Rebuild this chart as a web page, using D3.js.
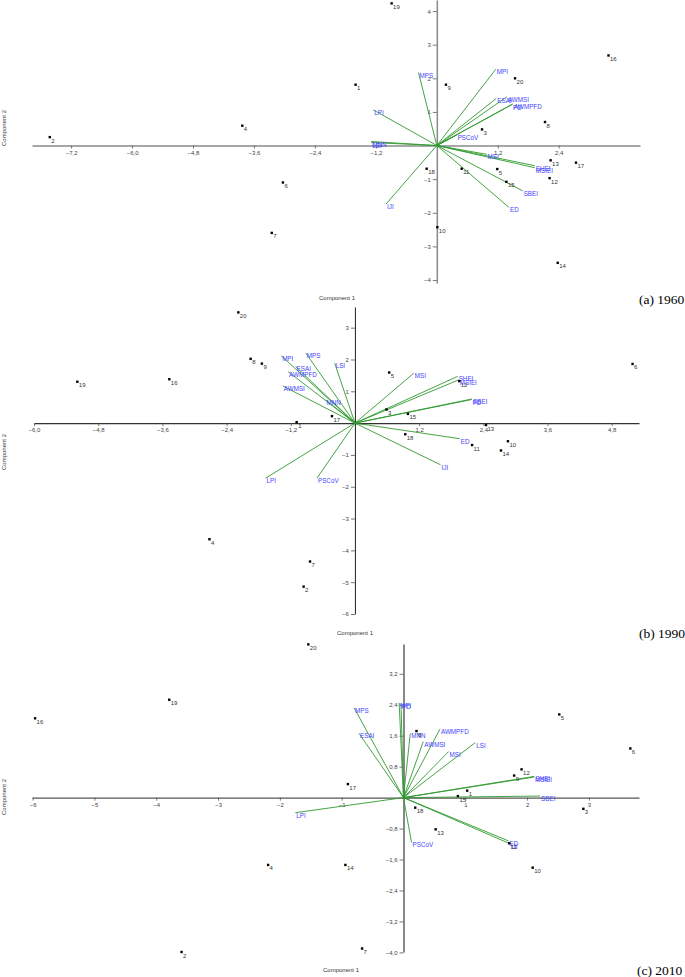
<!DOCTYPE html>
<html>
<head>
<meta charset="utf-8">
<script src="https://cdn.jsdelivr.net/npm/d3@7"></script>
<style>
html,body{margin:0;padding:0;background:#fff;}
svg{display:block;}
</style>
</head>
<body>
<svg id="chart" width="685" height="977"></svg>
<script>
// ---------- DATA ----------
const sampleIds = ["1","2","3","4","5","6","7","8","9","10","11","12","13","14","15","16","17","18","19","20"];

// 1960 scores
const pc1_1960 = [-1.60,-7.62,0.89,-3.83,1.19,-3.03,-3.25,2.13,0.18,0.01,0.49,2.22,2.24,2.38,1.37,3.38,2.74,-0.20,-0.89,1.54];
const pc2_1960 = [1.81,0.25,0.48,0.59,-0.70,-1.10,-2.60,0.70,1.81,-2.43,-0.69,-0.97,-0.44,-3.49,-1.08,2.68,-0.51,-0.69,4.23,2.00];
// 1990 scores
const pc1_1990 = [-1.09,-0.96,0.59,-2.72,0.64,5.19,-0.84,-1.95,-1.74,2.86,2.19,1.95,2.45,2.73,0.99,-3.47,-0.43,0.94,-5.19,-2.18];
const pc2_1990 = [0.03,-5.14,0.43,-3.65,1.59,1.86,-4.35,2.02,1.87,-0.57,-0.69,1.32,-0.06,-0.86,0.29,1.38,0.22,-0.35,1.30,3.48];
// 2010 scores
const pc1_2010 = [1.03,-3.59,2.91,-2.19,2.52,3.67,-0.67,0.21,1.79,2.09,1.71,1.91,0.52,-0.94,0.88,-5.96,-0.90,0.19,-3.79,-1.54];
const pc2_2010 = [0.18,-3.99,-0.29,-1.74,2.15,1.27,-3.90,1.72,0.57,-1.81,-1.18,0.73,-0.82,-1.74,0.04,2.05,0.35,-0.26,2.53,3.96];

// loadings (vectors)
const vecNames_1960 = ["MPI","MPS","ESAI","AWMSI","PD","AWMPFD","LPI","MNN","LSI","PSCoV","MSI","SHEI","MSIEI","SBEI","ED","IJI"];
const vecX_1960 = [1.16,-0.36,1.17,1.38,1.48,1.50,-1.25,-1.29,-1.29,0.39,0.98,1.93,1.93,1.69,1.42,-1.00];
const vecY_1960 = [2.27,2.17,1.40,1.45,1.22,1.24,1.06,0.12,0.09,0.31,-0.26,-0.60,-0.66,-1.35,-1.84,-1.74];

const vecNames_1990 = ["MPI","MPS","ESAI","AWMPFD","AWMSI","MNN","LSI","MSI","SHEI","MSIEI","SBEI","PD","ED","IJI","LPI","PSCoV"];
const vecX_1990 = [-1.38,-0.92,-1.11,-1.25,-1.35,-0.55,-0.38,1.10,1.92,1.94,2.19,2.18,1.96,1.60,-1.67,-0.71];
const vecY_1990 = [2.12,2.20,1.78,1.62,1.17,0.73,1.89,1.57,1.47,1.36,0.76,0.74,-0.49,-1.31,-1.73,-1.73];

const vecNames_2010 = ["LPI","MPS","ESAI","MPI","PD","MNN","AWMPFD","AWMSI","MSI","LSI","SHEI","MSIEI","SBEI","PSCoV","ED","IJI"];
const vecX_2010 = [-1.75,-0.80,-0.72,-0.07,-0.04,0.11,0.59,0.32,0.73,1.16,2.12,2.11,2.21,0.13,1.70,1.72];
const vecY_2010 = [-0.39,2.32,1.66,2.45,2.43,1.66,1.77,1.45,1.19,1.42,0.55,0.53,0.04,-1.16,-1.12,-1.19];

// tick labels
const xTicks_1960 = [-7.2,-6.0,-4.8,-3.6,-2.4,-1.2,1.2,2.4];
const yTicks_1960 = [4,3,2,1,-1,-2,-3,-4];
const xTicks_1990 = [-6.0,-4.8,-3.6,-2.4,-1.2,1.2,2.4,3.6,4.8];
const yTicks_1990 = [3,2,1,-1,-2,-3,-4,-5,-6];
const xTicks_2010 = [-6,-5,-4,-3,-2,-1,1,2,3];
const yTicks_2010 = [3.2,2.4,1.6,0.8,-0.8,-1.6,-2.4,-3.2,-4.0];

const captions = ["(a) 1960","(b) 1990","(c) 2010"];
const xTitle = "Component 1";
const yTitle = "Component 2";

// ---------- LAYOUT ----------
const panels = [
  {px:pc1_1960, py:pc2_1960, vn:vecNames_1960, vx:vecX_1960, vy:vecY_1960, xt:xTicks_1960, yt:yTicks_1960,
   xd:[-7.97,4.0], xr:[32,640], yd:[-4.09,4.33], yr:[283,0],
   xfmt:d=>d3.format(".1f")(d).replace(".",","), yfmt:d=>d3.format("d")(d),
   axisColor:"#8a8a8a", axisW:1.5,
   xTitlePos:[337,300], yTitlePos:[6,128], capPos:[639,304]},
  {px:pc1_1990, py:pc2_1990, vn:vecNames_1990, vx:vecX_1990, vy:vecY_1990, xt:xTicks_1990, yt:yTicks_1990,
   xd:[-6.0,5.31], xr:[34,639], yd:[-6.0,3.65], yr:[614,307],
   xfmt:d=>d3.format(".1f")(d).replace(".",","), yfmt:d=>d3.format("d")(d),
   axisColor:"#333", axisW:1.1,
   xTitlePos:[355,635], yTitlePos:[6,452], capPos:[639,638]},
  {px:pc1_2010, py:pc2_2010, vn:vecNames_2010, vx:vecX_2010, vy:vecY_2010, xt:xTicks_2010, yt:yTicks_2010,
   xd:[-6.01,3.81], xr:[32,639], yd:[-3.99,3.97], yr:[952,644],
   xfmt:d=>d3.format("d")(d), yfmt:d=>d3.format(".1f")(d).replace(".",","),
   axisColor:"#555", axisW:1.4,
   xTitlePos:[341,972], yTitlePos:[6,797], capPos:[637,975]}
];

const svg = d3.select("#chart");
const FONT = "'Liberation Sans', Arial, sans-serif";

panels.forEach((p,i)=>{
  const x = d3.scaleLinear().domain(p.xd).range(p.xr);
  const y = d3.scaleLinear().domain(p.yd).range(p.yr);
  const g = svg.append("g");

  // axes through origin
  const xa = g.append("g").attr("transform",`translate(0,${y(0)})`)
    .call(d3.axisBottom(x).tickValues(p.xt).tickSize(3).tickSizeOuter(0).tickPadding(2).tickFormat(p.xfmt));
  const ya = g.append("g").attr("transform",`translate(${x(0)},0)`)
    .call(d3.axisLeft(y).tickValues(p.yt).tickSize(4).tickSizeOuter(0).tickPadding(2).tickFormat(p.yfmt));
  [xa,ya].forEach(a=>{
    a.select(".domain").attr("stroke",p.axisColor).attr("stroke-width",p.axisW);
    a.selectAll(".tick line").attr("stroke","#555").attr("stroke-width",0.8);
    a.selectAll(".tick text").attr("fill","#444").attr("font-size",6).attr("font-family",FONT);
  });

  // vectors
  const vecs = p.vn.map((n,k)=>({n, x:p.vx[k], y:p.vy[k]}));
  g.append("g").selectAll("line").data(vecs).join("line")
    .attr("x1",x(0)).attr("y1",y(0))
    .attr("x2",d=>x(d.x)).attr("y2",d=>y(d.y))
    .attr("stroke","#2f9a2f").attr("stroke-width",0.9);
  g.append("g").selectAll("text").data(vecs).join("text")
    .attr("x",d=>x(d.x)+1).attr("y",d=>y(d.y)+5)
    .attr("fill","#4545ff").attr("font-size",6.3).attr("font-family",FONT)
    .text(d=>d.n);

  // points
  const pts = sampleIds.map((id,k)=>({id, x:p.px[k], y:p.py[k]}));
  g.append("g").selectAll("rect").data(pts).join("rect")
    .attr("x",d=>x(d.x)-1.2).attr("y",d=>y(d.y)-1.2).attr("width",2.4).attr("height",2.4)
    .attr("fill","#000");
  g.append("g").selectAll("text").data(pts).join("text")
    .attr("x",d=>x(d.x)+1.5).attr("y",d=>y(d.y)+5.5)
    .attr("fill","#333").attr("font-size",6).attr("font-family",FONT)
    .text(d=>d.id);

  // titles
  g.append("text").attr("x",p.xTitlePos[0]).attr("y",p.xTitlePos[1])
    .attr("text-anchor","middle").attr("font-size",6).attr("font-family",FONT).attr("fill","#333")
    .text(xTitle);
  g.append("text").attr("transform",`translate(${p.yTitlePos[0]},${p.yTitlePos[1]}) rotate(-90)`)
    .attr("text-anchor","middle").attr("font-size",6).attr("font-family",FONT).attr("fill","#333")
    .text(yTitle);
  g.append("text").attr("x",p.capPos[0]).attr("y",p.capPos[1])
    .attr("font-size",13.5).attr("font-family","'Liberation Serif', 'Times New Roman', serif").attr("fill","#000")
    .text(captions[i]);
});
</script>
</body>
</html>
